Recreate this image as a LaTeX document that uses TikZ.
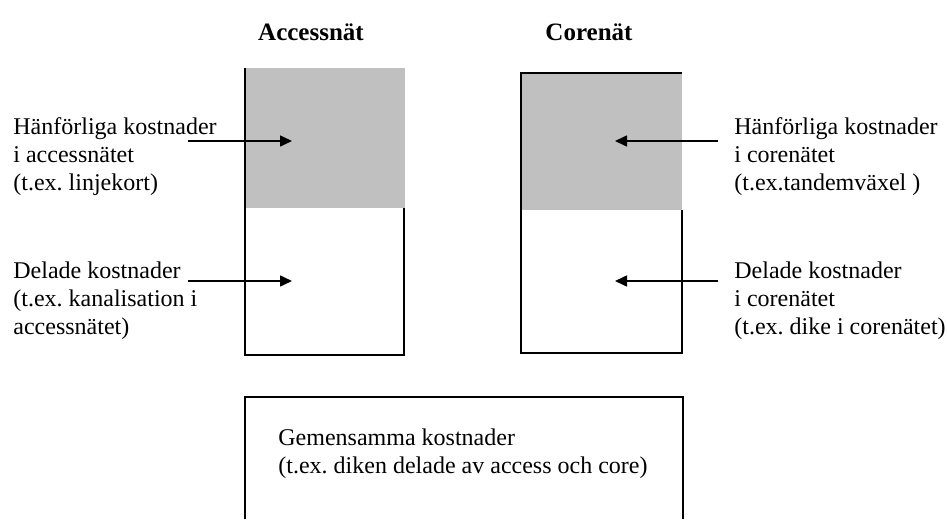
\documentclass[tikz,border=0pt]{standalone}
\usepackage{fontspec}
\setmainfont{Liberation Serif}
\usetikzlibrary{arrows.meta}
\definecolor{boxgray}{HTML}{C0C0C0}
\frenchspacing
\begin{document}
\begin{tikzpicture}[x=0.5pt,y=-0.5pt,
  lbl/.style={font=\fontsize{12}{14}\selectfont, align=left, inner sep=0pt, anchor=west},
  ttl/.style={font=\fontsize{12.5}{14}\selectfont\bfseries, inner sep=0pt},
  outline/.style={line width=0.8pt, black},
  arr/.style={line width=0.8pt, -{Triangle[length=6pt,width=5.5pt]}}]
\useasboundingbox (0,0) rectangle (947,519);
% titles
\node[ttl] (tacc) at (311,32) {Accessnät};
\node[ttl] (tcore) at (589,32) {Corenät};
% access box
\fill[boxgray] (246,68) rectangle (405,208);
\draw[outline] (245,68) -- (245,355) -- (404,355) -- (404,208);
% core box
\fill[boxgray] (522,73) rectangle (682,210);
\draw[outline] (682,210) -- (682,353) -- (521,353) -- (521,73) -- (682,73);
% bottom box
\draw[outline] (245,519) -- (245,397) -- (683,397) -- (683,519);
% labels
\node[lbl] (la) at (13,157) {Hänförliga kostnader\\i accessnätet\\(t.ex. linjekort)};
\node[lbl] (lb) at (13,301) {Delade kostnader\\(t.ex. kanalisation i\\accessnätet)};
\node[lbl] (ra) at (734,157) {Hänförliga kostnader\\i corenätet\\(t.ex.tandemväxel )};
\node[lbl] (rb) at (734,301) {Delade kostnader\\i corenätet\\(t.ex. dike i corenätet)};
\node[lbl] (gm) at (278,454) {Gemensamma kostnader\\(t.ex. diken delade av access och core)};
% arrow coordinates
\coordinate (las) at (188,141);
\coordinate (lae) at (292,141);
\coordinate (lbs) at (188,281);
\coordinate (lbe) at (292,281);
\coordinate (ras) at (718,141);
\coordinate (rae) at (615,141);
\coordinate (rbs) at (718,281);
\coordinate (rbe) at (615,281);
\draw[arr] (las) -- (lae);
\draw[arr] (lbs) -- (lbe);
\draw[arr] (ras) -- (rae);
\draw[arr] (rbs) -- (rbe);
\end{tikzpicture}
\end{document}
